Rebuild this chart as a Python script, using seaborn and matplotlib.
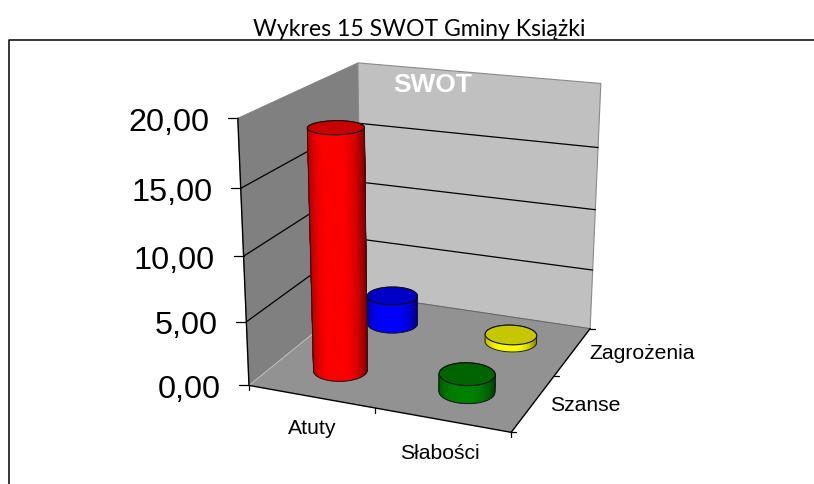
import numpy as np
import pandas as pd
import matplotlib
matplotlib.use("Agg")
import matplotlib.pyplot as plt
from matplotlib.collections import PolyCollection
from matplotlib.patches import Polygon
import seaborn as sns

TITLE = "Wykres 15 SWOT Gminy Książki"
WATERMARK = "SWOT"
categories = ["Atuty", "Słabości"]
depth_labels = ["Szanse", "Zagrożenia"]
series_names = ["Atuty", "Słabości", "Szanse", "Zagrożenia"]
series_cat = [0, 1, 0, 1]
series_depth = [0, 0, 1, 1]
series_values = [18.65, 1.4, 2.4, 0.6]
series_colors = ["#ff0000", "#008000", "#0000ff", "#ffff00"]
y_ticks = [0, 5, 10, 15, 20]
y_labels = ["0,00", "5,00", "10,00", "15,00", "20,00"]

sns.set_theme(style="white")
plt.rcParams["font.family"] = ["Liberation Sans", "DejaVu Sans"]
plt.rcParams["text.color"] = "black"

# camera calibration: frame corners of the 3-D box -> figure pixels
world = np.array([[0, 0, 0], [2, 0, 0], [2, 2, 0], [0, 2, 0],
                  [0, 0, 20], [0, 2, 20], [2, 2, 20],
                  [0, 0, 10], [2, 2, 10], [0, 0, 5], [2, 2, 5]], float)
image = np.array([[249.3, 386.7], [511, 433.3], [590, 329.3], [361, 295.5],
                  [238.3, 119], [357.7, 64], [600.7, 84.3],
                  [243, 257.3], [595.5, 211], [246.3, 322.7], [593, 271.3]], float)
A, b = [], []
for (X, Y, Z), (u, v) in zip(world, image):
    A.append([X, Y, Z, 1, 0, 0, 0, 0, -u * X, -u * Y, -u * Z])
    A.append([0, 0, 0, 0, X, Y, Z, 1, -v * X, -v * Y, -v * Z])
    b += [u, v]
P = np.append(np.linalg.lstsq(np.array(A), np.array(b), rcond=None)[0], 1).reshape(3, 4)


def proj(x, y, z):
    x, y, z = np.broadcast_arrays(np.asarray(x, float), np.asarray(y, float), np.asarray(z, float))
    h = P @ np.stack([x, y, z, np.ones_like(x)])
    return np.stack([h[0] / h[2], h[1] / h[2]], axis=-1)


def hull(pts):
    pts = sorted(map(tuple, pts))
    def half(seq):
        out = []
        for p in seq:
            while len(out) > 1 and ((out[-1][0]-out[-2][0])*(p[1]-out[-2][1]) -
                                    (out[-1][1]-out[-2][1])*(p[0]-out[-2][0])) <= 0:
                out.pop()
            out.append(p)
        return out[:-1]
    return np.array(half(pts) + half(pts[::-1]))


fig = plt.figure(figsize=(8.14, 4.85), dpi=100, facecolor="white")
ax = fig.add_axes([0, 0, 1, 1])
ax.set_xlim(0, 814)
ax.set_ylim(485, 0)
ax.axis("off")

# outer frame
frame = pd.DataFrame({"x": [9, 9, 814], "y": [485, 41, 41]})
ax.plot(frame.x, frame.y, color="black", lw=1.1, zorder=1)
ax.text(419, 29, TITLE, family=["Lato", "DejaVu Sans"], fontsize=16.6, ha="center", va="center", color="black")

# walls and floor
ax.add_patch(Polygon(proj([0, 0, 0, 0], [0, 2, 2, 0], [0, 0, 20, 20]), fc="#808080", ec="#808080", lw=0.6, zorder=2))
ax.add_patch(Polygon(proj([0, 2, 2, 0], [2, 2, 2, 2], [0, 0, 20, 20]), fc="#c0c0c0", ec="#8a8a8a", lw=0.8, zorder=2))
ax.add_patch(Polygon(proj([0, 2, 2, 0], [0, 0, 2, 2], [0, 0, 0, 0]), fc="#929292", ec="none", zorder=2.1))
for seg, col, lw in [(([0, 0], [0, 2], [0, 0]), "#c8c8c8", 0.6), (([0, 2], [2, 2], [0, 0]), "#666666", 0.7)]:
    xy = proj(*seg)
    ax.plot(xy[:, 0], xy[:, 1], color=col, lw=lw, zorder=2.2)

# gridlines
for t in y_ticks[1:-1]:
    xy = proj([0, 0, 2], [0, 2, 2], [t, t, t])
    ax.plot(xy[:, 0], xy[:, 1], color="black", lw=0.9, zorder=2.3)
ax.text(*proj(0.64, 2, 18.8), WATERMARK, color="white", fontsize=18.9, fontweight="bold", ha="center", va="center", zorder=2.4)

# axis lines and ticks
for seg in [([0, 0], [0, 0], [0, 20]), ([0, 2], [0, 0], [0, 0]), ([2, 2], [0, 2], [0, 0])]:
    xy = proj(*seg)
    ax.plot(xy[:, 0], xy[:, 1], color="black", lw=1.0, zorder=2.5)
for t, lab in zip(y_ticks, y_labels):
    u, v = proj(0, 0, t)
    ax.plot([u - 10, u], [v, v], color="black", lw=0.9, zorder=2.5)
    ax.annotate(lab, (u, v), xytext=(-28.5, -3.5), textcoords="offset pixels", fontsize=23.3, ha="right", va="center", zorder=3)
for i in range(3):
    u, v = proj(i, 0, 0)
    ax.plot([u, u], [v, v + 5], color="black", lw=0.9, zorder=2.5)
    u, v = proj(2, i, 0)
    ax.plot([u, u + 5], [v, v], color="black", lw=0.9, zorder=2.5)
for i, lab in enumerate(categories):
    u, v = proj(i + 0.5, 0, 0)
    ax.text(u + 1 - 3 * i, v + 31 + 2 * i, lab, fontsize=15.2, ha="center", va="center", zorder=3)
for i, lab in enumerate(depth_labels):
    u, v = proj(2, i + 0.5, 0)
    ax.text(u + 17, v + 1.5, lab, fontsize=15.2, ha="left", va="center", zorder=3)

# cylinders, back row first
R = 0.2
theta = np.linspace(0, 2 * np.pi, 181)
palette = sns.color_palette(series_colors)
order = sorted(range(len(series_values)), key=lambda k: -series_depth[k])
z0 = 5
for k in order:
    cx, cy = series_cat[k] + 0.5, series_depth[k] + 0.5
    h = series_values[k]
    col = np.array(palette[k])
    X, Y = cx + R * np.cos(theta), cy + R * np.sin(theta)
    top = proj(X, Y, np.full_like(X, h))
    bot = proj(X, Y, np.zeros_like(X))
    outline = hull(np.vstack([top[:-1], bot[:-1]]))
    ax.add_patch(Polygon(outline, fc=col * 0.5, ec="none", zorder=z0))
    # shade the side wall by horizontal position across the visible width
    bc = bot[:-1].mean(axis=0)
    umin, umax = bot[:, 0].min(), bot[:, 0].max()
    midu = 0.5 * (bot[:-1, 0] + bot[1:, 0])
    midv = 0.5 * (bot[:-1, 1] + bot[1:, 1])
    t_pos = (midu - umin) / (umax - umin)
    shade = np.clip(1.02 - 0.55 * (np.abs(t_pos - 0.45) / 0.55) ** 2.6, 0.45, 1)
    facing = midv >= bc[1] - 1.5
    idx = np.where(facing)[0]
    idx = idx[np.argsort(-np.abs(t_pos[idx] - 0.45))]
    polys = [[bot[i], bot[i + 1], top[i + 1], top[i]] for i in idx]
    cols = [col * shade[i] for i in idx]
    ax.add_collection(PolyCollection(polys, facecolors=cols, edgecolors=cols, linewidths=0.5, zorder=z0 + 0.05))
    ax.add_patch(Polygon(outline, fc="none", ec="#1a1a1a", lw=0.7, zorder=z0 + 0.1))
    ax.add_patch(Polygon(top[:-1], fc=col * 0.78, ec="#111111", lw=0.8, zorder=z0 + 0.2))
    z0 += 1

fig.savefig("out.png", dpi=100)
